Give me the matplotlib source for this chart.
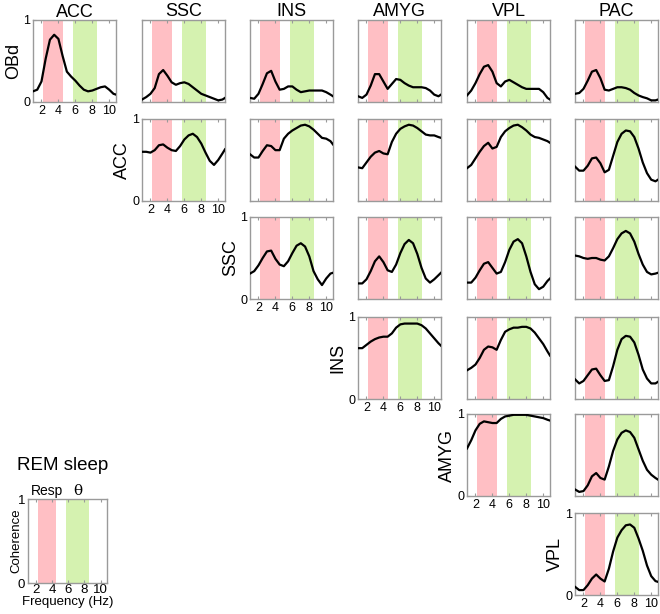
import matplotlib
matplotlib.use("Agg")
import matplotlib.pyplot as plt

plt.rcParams['font.family'] = ['Liberation Sans', 'DejaVu Sans']

# ---------------- data ----------------
freq = [1.0, 1.5, 2.0, 2.5, 3.0, 3.5, 4.0, 4.5, 5.0, 5.5, 6.0, 6.5, 7.0, 7.5,
        8.0, 8.5, 9.0, 9.5, 10.0, 10.5, 10.8]

col_names = ["ACC", "SSC", "INS", "AMYG", "VPL", "PAC"]
row_names = ["OBd", "ACC", "SSC", "INS", "AMYG", "VPL"]

resp_band = (2.2, 4.5)
theta_band = (5.7, 8.6)

# row OBd
obd_acc = [0.13, 0.15, 0.25, 0.53, 0.76, 0.82, 0.77, 0.56, 0.37, 0.31, 0.26, 0.20, 0.15, 0.13, 0.14, 0.16, 0.18, 0.19, 0.15, 0.10, 0.09]
obd_ssc = [0.03, 0.06, 0.10, 0.17, 0.34, 0.39, 0.32, 0.24, 0.21, 0.23, 0.24, 0.22, 0.18, 0.14, 0.10, 0.08, 0.06, 0.04, 0.02, 0.03, 0.05]
obd_ins = [0.05, 0.04, 0.10, 0.22, 0.35, 0.38, 0.25, 0.15, 0.16, 0.19, 0.19, 0.15, 0.12, 0.13, 0.14, 0.14, 0.14, 0.14, 0.12, 0.09, 0.07]
obd_amyg = [0.07, 0.05, 0.09, 0.20, 0.34, 0.34, 0.25, 0.16, 0.22, 0.28, 0.27, 0.23, 0.20, 0.18, 0.18, 0.18, 0.17, 0.14, 0.09, 0.07, 0.09]
obd_vpl = [0.08, 0.14, 0.23, 0.34, 0.43, 0.45, 0.37, 0.23, 0.19, 0.25, 0.27, 0.24, 0.21, 0.18, 0.16, 0.16, 0.16, 0.16, 0.12, 0.05, 0.03]
obd_pac = [0.10, 0.11, 0.16, 0.26, 0.37, 0.39, 0.29, 0.15, 0.14, 0.16, 0.18, 0.18, 0.17, 0.15, 0.11, 0.08, 0.06, 0.045, 0.02, 0.02, 0.03]
# row ACC
acc_ssc = [0.60, 0.60, 0.59, 0.62, 0.68, 0.69, 0.65, 0.62, 0.61, 0.67, 0.75, 0.80, 0.82, 0.78, 0.70, 0.59, 0.49, 0.44, 0.50, 0.58, 0.63]
acc_ins = [0.57, 0.53, 0.53, 0.61, 0.68, 0.67, 0.62, 0.62, 0.76, 0.82, 0.86, 0.89, 0.92, 0.93, 0.91, 0.87, 0.82, 0.77, 0.76, 0.73, 0.69]
acc_amyg = [0.41, 0.40, 0.47, 0.54, 0.59, 0.61, 0.58, 0.57, 0.72, 0.82, 0.88, 0.91, 0.93, 0.92, 0.89, 0.85, 0.81, 0.80, 0.80, 0.78, 0.77]
acc_vpl = [0.40, 0.44, 0.52, 0.60, 0.67, 0.71, 0.64, 0.66, 0.78, 0.85, 0.89, 0.92, 0.93, 0.90, 0.86, 0.81, 0.78, 0.77, 0.75, 0.73, 0.71]
acc_pac = [0.42, 0.37, 0.37, 0.43, 0.52, 0.53, 0.46, 0.35, 0.38, 0.55, 0.72, 0.82, 0.86, 0.85, 0.78, 0.64, 0.47, 0.34, 0.26, 0.24, 0.26]
# row SSC
ssc_ins = [0.31, 0.34, 0.41, 0.50, 0.58, 0.59, 0.49, 0.42, 0.40, 0.46, 0.56, 0.65, 0.68, 0.64, 0.52, 0.34, 0.24, 0.17, 0.25, 0.31, 0.32]
ssc_amyg = [0.19, 0.19, 0.24, 0.34, 0.46, 0.52, 0.45, 0.35, 0.33, 0.42, 0.56, 0.67, 0.72, 0.68, 0.55, 0.38, 0.25, 0.20, 0.24, 0.29, 0.32]
ssc_vpl = [0.20, 0.20, 0.26, 0.35, 0.43, 0.45, 0.38, 0.31, 0.33, 0.45, 0.60, 0.70, 0.73, 0.68, 0.52, 0.33, 0.18, 0.12, 0.15, 0.22, 0.25]
ssc_pac = [0.53, 0.52, 0.50, 0.49, 0.50, 0.50, 0.48, 0.47, 0.52, 0.62, 0.73, 0.80, 0.83, 0.80, 0.70, 0.55, 0.42, 0.33, 0.30, 0.31, 0.32]
# row INS
ins_amyg = [0.62, 0.62, 0.66, 0.70, 0.73, 0.75, 0.76, 0.76, 0.80, 0.87, 0.91, 0.92, 0.92, 0.92, 0.92, 0.90, 0.86, 0.80, 0.74, 0.68, 0.65]
ins_vpl = [0.35, 0.38, 0.42, 0.50, 0.60, 0.64, 0.63, 0.60, 0.72, 0.82, 0.85, 0.87, 0.87, 0.88, 0.88, 0.86, 0.81, 0.74, 0.67, 0.58, 0.53]
ins_pac = [0.24, 0.19, 0.22, 0.29, 0.36, 0.37, 0.29, 0.22, 0.23, 0.40, 0.60, 0.73, 0.77, 0.76, 0.69, 0.54, 0.36, 0.25, 0.19, 0.19, 0.21]
# row AMYG
amyg_vpl = [0.58, 0.68, 0.80, 0.88, 0.91, 0.90, 0.89, 0.89, 0.94, 0.97, 0.98, 0.99, 0.99, 0.99, 0.99, 0.98, 0.97, 0.96, 0.95, 0.93, 0.92]
amyg_pac = [0.08, 0.05, 0.06, 0.13, 0.24, 0.28, 0.22, 0.20, 0.36, 0.55, 0.69, 0.77, 0.80, 0.78, 0.71, 0.57, 0.43, 0.32, 0.26, 0.22, 0.20]
# row VPL
vpl_pac = [0.10, 0.06, 0.06, 0.12, 0.20, 0.25, 0.20, 0.165, 0.32, 0.53, 0.70, 0.79, 0.85, 0.86, 0.82, 0.69, 0.54, 0.36, 0.23, 0.17, 0.16]

curves = {
    (0, 0): obd_acc, (0, 1): obd_ssc, (0, 2): obd_ins, (0, 3): obd_amyg, (0, 4): obd_vpl, (0, 5): obd_pac,
    (1, 1): acc_ssc, (1, 2): acc_ins, (1, 3): acc_amyg, (1, 4): acc_vpl, (1, 5): acc_pac,
    (2, 2): ssc_ins, (2, 3): ssc_amyg, (2, 4): ssc_vpl, (2, 5): ssc_pac,
    (3, 3): ins_amyg, (3, 4): ins_vpl, (3, 5): ins_pac,
    (4, 4): amyg_vpl, (4, 5): amyg_pac,
    (5, 5): vpl_pac,
}

xticks = [2, 4, 6, 8, 10]

# ---------------- style ----------------
W, H = 660, 614
PINK = "#ffbfc4"
GREEN = "#d5f2b0"
SPINE = "#9a9a9a"

col_left = [33, 142, 250, 358, 467, 575]
row_top = [20, 119, 217, 317, 414, 513]
pw, ph = 83, 82

fig = plt.figure(figsize=(W / 100, H / 100), dpi=100)


def make_ax(left, top, w, h):
    return fig.add_axes([left / W, 1 - (top + h) / H, w / W, h / H])


def style_ax(ax, labels, lsize=9):
    ax.set_xlim(1.0, 10.8)
    ax.set_ylim(0, 1)
    ax.axvspan(*resp_band, color=PINK, lw=0, zorder=0)
    ax.axvspan(*theta_band, color=GREEN, lw=0, zorder=0)
    ax.set_xticks(xticks)
    ax.set_yticks([0, 1])
    ax.tick_params(direction='in', top=True, right=False, length=2.5,
                   width=0.8, color=SPINE, labelsize=lsize, pad=2)
    for s in ax.spines.values():
        s.set_color(SPINE)
        s.set_linewidth(1.0)
    if not labels:
        ax.set_xticklabels([])
        ax.set_yticklabels([])


for (r, c), vals in curves.items():
    ax = make_ax(col_left[c], row_top[r], pw, ph)
    diag = (r == c)
    style_ax(ax, diag)
    ax.plot(freq, vals, color='black', lw=1.6, zorder=3)
    if r == 0:
        ax.set_title(col_names[c], fontsize=13, pad=2)
    if diag:
        ax.set_ylabel(row_names[r], fontsize=13, labelpad=1)

# legend panel
lax = make_ax(28, 499, 79, 84)
style_ax(lax, True, lsize=9.5)
lax.tick_params(axis='x', pad=1)
lax.set_ylabel("Coherence", fontsize=9.5, labelpad=-3)
lax.set_xlabel("Frequency (Hz)", fontsize=9.5, labelpad=0)
lax.text(sum(resp_band) / 2, 1.01, "Resp", ha='center', va='bottom', fontsize=10)
lax.text(sum(theta_band) / 2, 1.01, "θ", ha='center', va='bottom', fontsize=11,
         family=['DejaVu Serif'])
fig.text(63 / W, 1 - 465 / H, "REM sleep", ha='center', va='center', fontsize=13.5)

fig.savefig("out.png", dpi=100)
